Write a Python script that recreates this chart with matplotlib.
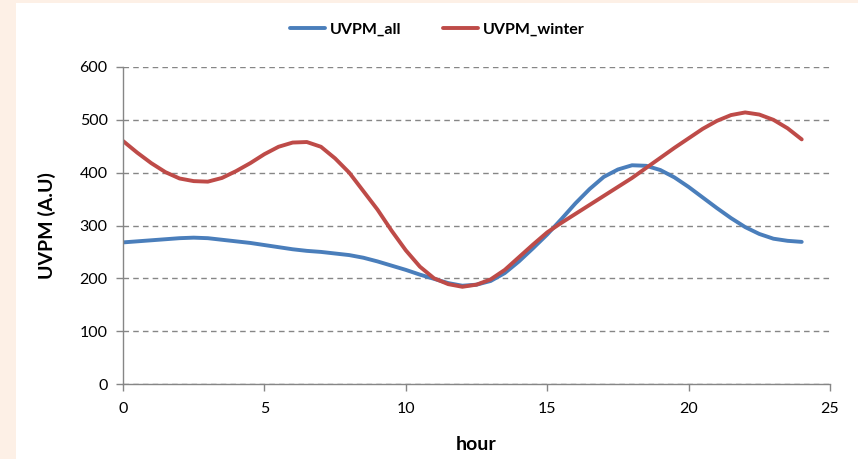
import matplotlib.pyplot as plt
from matplotlib.patches import Rectangle

# ---- data (every half hour) ----
hours = [h / 2 for h in range(49)]
uvpm_all = [268, 270, 272, 274, 276, 277, 276, 273, 270, 267, 263, 259,
            255, 252, 250, 247, 244, 239, 232, 224, 216, 207, 199, 191,
            186, 188, 195, 210, 232, 257, 283, 312, 342, 369, 392, 406,
            414, 413, 405, 391, 373, 353, 333, 314, 297, 284, 275, 271, 269]
uvpm_winter = [460, 438, 418, 401, 389, 384, 383, 390, 403, 418, 435, 449,
               457, 458, 449, 427, 400, 365, 330, 290, 253, 222, 200, 189,
               184, 188, 198, 216, 240, 264, 287, 305, 322, 339, 356, 373,
               390, 409, 428, 447, 465, 483, 498, 509, 514, 510, 500, 484, 463]
xticks = [0, 5, 10, 15, 20, 25]
yticks = [0, 100, 200, 300, 400, 500, 600]

plt.rcParams['font.family'] = ['Lato', 'DejaVu Sans']
grey = '#868686'

fig = plt.figure(figsize=(8.58, 4.59), dpi=100)
fig.patch.set_facecolor('#fdf0e6')
# white chart panel
fig.patches.append(Rectangle((16 / 858, 0), 1, 1 - 3 / 459, transform=fig.transFigure,
                             facecolor='white', edgecolor='none', zorder=-10))

ax = fig.add_axes([123 / 858, 75 / 459, 707 / 858, 317 / 459])
ax.set_facecolor('none')
ax.plot(hours, uvpm_all, color='#4a7ebb', lw=2.8, label='UVPM_all',
        solid_capstyle='round', solid_joinstyle='round')
ax.plot(hours, uvpm_winter, color='#be4b48', lw=2.8, label='UVPM_winter',
        solid_capstyle='round', solid_joinstyle='round')

ax.set_xlim(0, 25)
ax.set_ylim(0, 600)
ax.set_xticks(xticks)
ax.set_yticks(yticks)
ax.yaxis.grid(True, color=grey, ls=(0, (4, 3)), lw=1)
ax.set_axisbelow(True)
for s in ['top', 'right']:
    ax.spines[s].set_visible(False)
for s in ['left', 'bottom']:
    ax.spines[s].set_color(grey)
    ax.spines[s].set_linewidth(1)
ax.tick_params(axis='both', colors=grey, labelcolor='black', labelsize=11.5,
               length=5, width=1)
ax.tick_params(axis='x', pad=8)
ax.tick_params(axis='y', pad=6)

ax.set_xlabel('hour', fontsize=14, fontweight='bold', labelpad=14)
ax.set_ylabel('UVPM (A.U)', fontsize=14, fontweight='bold', labelpad=17)

fig.legend(loc='center', bbox_to_anchor=(0.51, 0.935), ncol=2, frameon=False,
           prop={'size': 11.5, 'weight': 'bold'}, handlelength=2.2,
           handletextpad=0.3, columnspacing=2.6)

fig.savefig('out.png', dpi=100, facecolor=fig.get_facecolor())
